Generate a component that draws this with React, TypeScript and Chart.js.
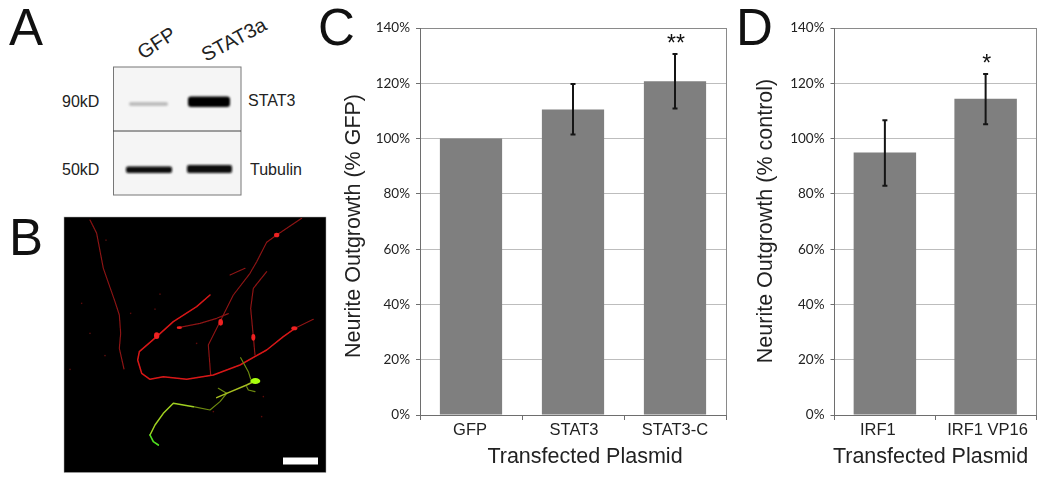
import React, { useEffect, useRef } from "react";
import { Chart, registerables } from "chart.js";

Chart.register(...registerables);

const cCategories = ["GFP", "STAT3", "STAT3-C"];
const cValues = [100, 110.5, 120.7];
const cLow = [null, 101.5, 110.9];
const cHigh = [null, 119.7, 130.6];
const cStars = ["", "", "**"];
const cYTitle = "Neurite Outgrowth (% GFP)";

const dCategories = ["IRF1", "IRF1 VP16"];
const dValues = [95, 114.4];
const dLow = [82.9, 105.2];
const dHigh = [106.6, 123.4];
const dStars = ["", "*"];
const dYTitle = "Neurite Outgrowth (% control)";

const xTitle = "Transfected Plasmid";
const yTicks = [0, 20, 40, 60, 80, 100, 120, 140];

const ARIAL = '"Liberation Sans", Arial, sans-serif';

type PanelConfig = {
  labels: string[]; values: number[]; low: (number | null)[]; high: (number | null)[]; stars: string[];
  yTitle: string; left: number; width: number; yWidth: number; rightPad: number;
  yTitleX: number; yTitleY: number; xTitleX: number; labelNudge: number[];
};

const panelC: PanelConfig = {
  labels: cCategories, values: cValues, low: cLow, high: cHigh, stars: cStars, yTitle: cYTitle,
  left: 330, width: 400, yWidth: 90, rightPad: 4, yTitleX: 354, yTitleY: 226, xTitleX: 585, labelNudge: [-1, 1, 0],
};
const panelD: PanelConfig = {
  labels: dCategories, values: dValues, low: dLow, high: dHigh, stars: dStars, yTitle: dYTitle,
  left: 740, width: 310, yWidth: 94.5, rightPad: 14, yTitleX: 766, yTitleY: 221, xTitleX: 930.5, labelNudge: [-7, 2],
};

function BarPanel({ cfg }: { cfg: PanelConfig }) {
  const ref = useRef<HTMLCanvasElement>(null);
  useEffect(() => {
    const overlay = {
      id: "overlay",
      beforeDraw(chart: any) {
        const items = chart.scales.x.getLabelItems(chart.chartArea);
        items.forEach((it: any, i: number) => {
          if (!it.__nudged) {
            it.options.translation[0] += cfg.labelNudge[i] || 0;
            it.__nudged = true;
          }
        });
      },
      afterDatasetsDraw(chart: any) {
        const { ctx, chartArea, scales } = chart;
        const { x, y } = scales;
        ctx.save();
        ctx.strokeStyle = "#8a8a8a";
        ctx.lineWidth = 1;
        ctx.beginPath();
        ctx.moveTo(chartArea.right + 0.5, chartArea.top);
        ctx.lineTo(chartArea.right + 0.5, chartArea.bottom);
        ctx.stroke();
        ctx.strokeStyle = "#151515";
        ctx.lineWidth = 2;
        cfg.labels.forEach((_, i) => {
          const lo = cfg.low[i];
          const hi = cfg.high[i];
          if (lo == null || hi == null) return;
          const px = x.getPixelForValue(i);
          const py0 = y.getPixelForValue(lo);
          const py1 = y.getPixelForValue(hi);
          ctx.beginPath();
          ctx.moveTo(px, py0);
          ctx.lineTo(px, py1);
          ctx.moveTo(px - 2.5, py0);
          ctx.lineTo(px + 2.5, py0);
          ctx.moveTo(px - 2.5, py1);
          ctx.lineTo(px + 2.5, py1);
          ctx.stroke();
          if (cfg.stars[i]) {
            ctx.fillStyle = "#111";
            ctx.font = `23px ${ARIAL}`;
            ctx.textAlign = "center";
            ctx.textBaseline = "alphabetic";
            ctx.fillText(cfg.stars[i], px + 1, py1 - 2.5);
          }
        });
        ctx.fillStyle = "#222";
        ctx.textAlign = "center";
        ctx.textBaseline = "middle";
        ctx.font = `21.5px ${ARIAL}`;
        ctx.fillText(xTitle, cfg.xTitleX - cfg.left, 457);
        ctx.translate(cfg.yTitleX - cfg.left, cfg.yTitleY);
        ctx.rotate(-Math.PI / 2);
        ctx.fillText(cfg.yTitle, 0, 0);
        ctx.restore();
      },
    };
    const chart = new Chart(ref.current!, {
      type: "bar",
      data: {
        labels: cfg.labels,
        datasets: [{ data: cfg.values, backgroundColor: "#7f7f7f", categoryPercentage: 1, barPercentage: cfg.labels.length === 3 ? 0.61 : 0.62 }],
      },
      options: {
        responsive: false,
        animation: false,
        events: [],
        layout: { padding: { top: 28, right: cfg.rightPad, left: 0, bottom: 0 } },
        plugins: { legend: { display: false }, tooltip: { enabled: false }, title: { display: false } },
        scales: {
          x: {
            afterFit: (s: any) => { s.height = 67; },
            border: { color: "#6e6e6e", width: 1 },
            grid: { drawOnChartArea: false, drawTicks: true, tickLength: 5, tickColor: "#6e6e6e" },
            ticks: { color: "#222", font: { family: ARIAL, size: 16.5 }, padding: 1, maxRotation: 0, autoSkip: false },
          },
          y: {
            min: 0,
            max: 140,
            afterFit: (s: any) => { s.width = cfg.yWidth; },
            afterBuildTicks: (s: any) => { s.ticks = yTicks.map((value) => ({ value })); },
            border: { color: "#6e6e6e", width: 1 },
            grid: {
              color: (c: any) => (c.tick && c.tick.value === 140 ? "#8a8a8a" : "#bdbdbd"),
              tickColor: "#6e6e6e",
              tickLength: 4,
              lineWidth: 1,
            },
            ticks: { color: "#222", font: { family: "Lato, sans-serif", size: 13.5 }, padding: 6, callback: (v: any) => `${v}%` },
          },
        },
      },
      plugins: [overlay],
    } as any);
    return () => chart.destroy();
  }, [cfg]);
  return (
    <canvas
      ref={ref}
      width={cfg.width}
      height={482}
      style={{ position: "absolute", left: cfg.left, top: 0, width: cfg.width, height: 482 }}
    />
  );
}

const letterStyle = (left: number, top: number): React.CSSProperties => ({
  position: "absolute", left, top, fontFamily: ARIAL, fontSize: 51, lineHeight: "51px", color: "#111",
});
const smallText = (left: number, top: number): React.CSSProperties => ({
  position: "absolute", left, top, fontFamily: ARIAL, fontSize: 16, lineHeight: "18px", color: "#222", whiteSpace: "nowrap",
});

// Illustrative micrograph strokes, in panel-image units (not chart data)
const redDim = [
  "M270 45 L290 85 L310 190 L345 290 L358 330 L362 385 L358 430 L372 492",
  "M535 368 L600 355 L650 340 L685 326",
  "M905 40 L830 90 L800 112 L770 170 L750 205 L700 270 L660 350 L625 420 L632 510",
  "M800 200 L760 250 L752 310 L760 395 L765 450",
  "M690 210 L735 190",
  "M940 343 L885 370",
];
const redBright = "M885 370 L850 395 L800 435 L720 480 L640 510 L560 523 L490 515 L450 523 L425 505 L413 465 L418 440 L470 395 L520 350 L590 305 L630 270";
const somas = [[830, 90, 8, 7], [662, 352, 7, 10], [760, 397, 6, 10], [883, 370, 9, 6], [470, 392, 8, 10], [538, 368, 8, 4]];
const specks = [[245, 295], [270, 385], [392, 325], [590, 415], [315, 452], [210, 493], [465, 312], [480, 267], [318, 105], [790, 575], [785, 635], [640, 620]];
const greenDim = ["M722 458 L745 500 L752 522", "M740 545 L745 555 L765 560", "M655 550 L680 565", "M680 565 L660 590 L630 615 L580 605"];
const greenBright = "M765 528 L740 540 L680 565 L650 578";
const greenBrightTail = "M580 605 L520 595 L490 625 L465 660 L450 690";
const greenTail = "M450 690 L460 710 L475 720";

function Figure() {
  return (
    <svg width={1050} height={482} style={{ position: "absolute", left: 0, top: 0 }}>
      <defs>
        <filter id="soft" x="-20%" y="-100%" width="140%" height="300%"><feGaussianBlur stdDeviation="1.1" /></filter>
        <filter id="softer" x="-20%" y="-20%" width="140%" height="140%"><feGaussianBlur stdDeviation="0.6" /></filter>
      </defs>
      <rect x={113} y={67} width={128} height={128} fill="#f5f5f5" />
      <g filter="url(#soft)">
        <rect x={129} y={102} width={39} height={4} rx={2} fill="#bdbdbd" />
        <rect x={188} y={96.5} width={42} height={10.5} rx={3} fill="#000" />
        <rect x={126} y={166.5} width={46} height={6.5} rx={2} fill="#0a0a0a" />
        <rect x={187} y={165} width={45} height={8} rx={2} fill="#0a0a0a" />
      </g>
      <rect x={113.5} y={67} width={127.5} height={128} fill="none" stroke="#777" strokeWidth={1} />
      <line x1={113} x2={241} y1={131} y2={131} stroke="#444" strokeWidth={1} />

      <rect x={64} y={217} width={262} height={255.5} fill="#000" stroke="#aaa" strokeWidth={0.5} />
      <g transform="translate(0,205) scale(0.33333)" fill="none" strokeLinecap="round" strokeLinejoin="round" filter="url(#softer)">
        {redDim.map((d, i) => <path key={i} d={d} stroke="#8c1414" strokeWidth={3.5} />)}
        <path d={redBright} stroke="#d81818" strokeWidth={4.5} />
        {somas.map(([cx, cy, rx, ry], i) => <ellipse key={i} cx={cx} cy={cy} rx={rx} ry={ry} fill="#ee2020" />)}
        {specks.map(([cx, cy], i) => <circle key={i} cx={cx} cy={cy} r={2.5} fill="#5a0f0f" />)}
        {greenDim.map((d, i) => <path key={i} d={d} stroke="#6d8a10" strokeWidth={3.5} />)}
        <path d={greenBright} stroke="#a8c020" strokeWidth={4.5} />
        <path d={greenBrightTail} stroke="#a0d020" strokeWidth={4.5} />
        <path d={greenTail} stroke="#50e020" strokeWidth={5} />
        <ellipse cx={766} cy={528} rx={15} ry={9} fill="#a8ff10" />
      </g>
      <rect x={283} y={457.5} width={35} height={7} fill="#fff" />

      <text x={0} y={0} transform="translate(143,60) rotate(-33)" fontFamily={ARIAL} fontSize={20} fill="#222">GFP</text>
      <text x={0} y={0} transform="translate(206,62) rotate(-28)" fontFamily={ARIAL} fontSize={20} fill="#222">STAT3a</text>
    </svg>
  );
}

export default function App() {
  useEffect(() => { document.body.style.margin = "0"; }, []);
  return (
    <div style={{ position: "absolute", left: 0, top: 0, width: 1050, height: 482, overflow: "hidden", background: "#fff" }}>
      <Figure />
      <div style={letterStyle(9, 2)}>A</div>
      <div style={letterStyle(9, 212)}>B</div>
      <div style={letterStyle(318, 2)}>C</div>
      <div style={letterStyle(736, 2)}>D</div>
      <div style={smallText(62, 93)}>90kD</div>
      <div style={smallText(62, 161)}>50kD</div>
      <div style={smallText(248, 92)}>STAT3</div>
      <div style={smallText(250, 161)}>Tubulin</div>
      <BarPanel cfg={panelC} />
      <BarPanel cfg={panelD} />
    </div>
  );
}
